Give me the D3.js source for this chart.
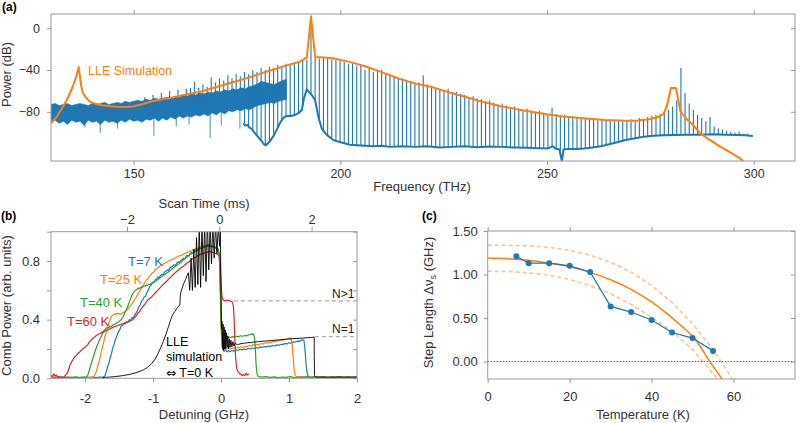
<!DOCTYPE html>
<html><head><meta charset="utf-8">
<script src="https://cdn.jsdelivr.net/npm/d3@7"></script>
<style>body{margin:0;background:#fff}svg{display:block}</style>
</head><body>
<svg id="chart" width="800" height="423"></svg>
<script>
// ---------------- DATA ----------------
// Panel (a): spectrum (dB) vs frequency (THz)
const bandStart = 130; // first frequency of the noisy floor samples (1 THz step)
const bandHi = [-73,-72,-74,-73,-72,-74,-73,-72,-73,-74,-72,-73,-72,-71,-73,-72,-71,-72,-70,-71,-70,-69,-70,-68,-69,-67,-68,-67,-66,-67,-65,-66,-64,-65,-63,-64,-62,-63,-61,-62,-60,-61,-59,-60,-58,-59,-57,-58,-56,-55,-53,-51,-52,-53,-54,-52,-50,-49];
const bandLo = [-90,-88,-91,-89,-92,-88,-90,-89,-93,-88,-90,-89,-92,-88,-90,-89,-91,-88,-90,-87,-89,-88,-90,-87,-88,-86,-89,-86,-88,-85,-87,-84,-86,-84,-85,-83,-84,-82,-84,-81,-83,-80,-82,-79,-80,-78,-79,-77,-78,-76,-74,-73,-72,-71,-72,-70,-69,-68];
const spikeFreq = [138.2,141.9,146.1,154.9,160.3,163.4,168.5,171.2,175.7];
const spikeLow  = [-95,-100,-96,-103,-94,-92,-105,-93,-96];
const lowerTrace = [[176.5,-91],[177,-93],[177.5,-92.5],[178,-95],[178.5,-96],[179,-99],[179.5,-101],[180,-103.5],[180.5,-106],[181,-108],[181.5,-111],[182,-112],[182.5,-110],[183,-108],[183.5,-105],[184,-102],[184.5,-98],[185,-94],[185.5,-90],[186,-87],[186.5,-85],[187,-84],[188,-84],[189,-83],[190,-81],[190.7,-78],[191.2,-67],[191.9,-58.5],[192.4,-61],[193.1,-64],[193.9,-69],[194.7,-85],[195.5,-96],[196.7,-102],[198.3,-107],[200,-109],[201,-110],[202.3,-111.5],[204,-112],[206,-112.5],[208,-113],[210,-112.5],[212,-113.5],[215,-113],[218,-113.5],[221,-113],[224,-114],[227,-113.5],[230,-113],[233,-113.8],[236,-113.2],[239,-113.5],[242,-114],[245,-114.3],[248,-114.8],[250,-115],[251.5,-113],[252,-115],[253,-116],[253.6,-127],[254,-116],[255,-115.5],[257,-115.5],[259,-115],[261,-114],[263,-113],[265,-111],[267,-109],[269,-107],[271,-105.5],[273,-104],[275,-103],[278,-102.5],[281,-102.2],[284,-102],[287,-101.8],[290,-101.5],[293,-101.8],[296,-102.2],[298,-102.5],[299.8,-103]];
const pumpFreq = 192.9, combSpacing = 1.0056, firstComb = -40;
const combTops = [-66,-70,-64,-69,-62,-67,-60,-65,-59,-63,-58,-57,-51,-57,-54,-56,
 -47,-52,-48,-50,-45,-48,-44,-46,-42,-44,-40,-42,-38,-40,-37,-38,-35,-36,-34,-34,-33,-32,-31,-30,
 12,
 -28,-29,-28,-29,-30,-30,-31,-32,-34,-34,
 -36,-36,-40,-38,-42,-41,-40,-44,-45,-46,
 -48,-48,-50,-51,-52,-52,-45,-54,-55,-57,
 -58,-59,-58,-61,-61,-63,-64,-66,-65,-67,
 -68,-70,-69,-71,-73,-72,-74,-76,-75,-77,
 -78,-77,-79,-80,-79,-81,-83,-76,-82,-84,
 -83,-85,-84,-86,-85,-86,-87,-86,-88,-87,
 -88,-87,-89,-88,-89,-88,-87,-88,-86,-87,
 -85,-84,-83,-82,-80,-78,-75,-69,-38,-62,
 -72,-78,-83,-86,-89,-85,-94,-96,-97,-98,
 -99,-100,-99,-101,-101];
const orangeLLE = [[130,-90.7],[131.4,-84.7],[132.6,-77],[133.8,-68.7],[134.6,-62],[135.4,-54.4],[136,-47.5],[136.4,-41.7],[136.7,-37.2],[137,-46],[137.3,-55],[137.7,-62],[138.5,-66.5],[139.4,-70.3],[140.5,-72],[141.9,-73.5],[143.9,-74.5],[145.9,-75.1],[148,-75.3],[149.8,-75],[152,-72.8],[154,-70.3],[157,-68],[160,-65.8],[163,-63.3],[166.1,-60.8],[169,-57.5],[172.1,-53.9],[175,-50.5],[178.1,-47],[181,-43],[184.2,-39.1],[187,-35.6],[190.2,-32.1],[191.9,-27.9],[192.9,10.9],[193.9,-27.6],[196,-28],[198.2,-28.8],[202,-32],[206.4,-36.9],[210,-42],[214.4,-48.6],[218,-52.8],[222.4,-56.6],[226,-61],[230.6,-66.1],[234,-70],[238.6,-74.4],[244,-78.5],[249.9,-82.4],[254,-84.5],[258.7,-86.2],[264,-87.7],[269.3,-88.5],[272,-88.3],[274.9,-86.9],[276.8,-85],[278.2,-82.1],[279,-74.4],[280,-57.2],[281.2,-57.2],[282.3,-79.9],[283.8,-87],[285.4,-92.6],[287,-100.5],[289.5,-107],[291.9,-113.3],[293.5,-116.8],[295,-120.3],[296.5,-124],[297.5,-127]];
const freqTicks = [150,200,250,300];
const powerTicks = [0,-40,-80];

// Panel (b): comb power vs detuning (GHz)
const tr7K = [[-2.5,.006],[-2.44,.003],[-2.38,.009],[-2.32,.004],[-2.26,.007],[-2.2,.003],[-2.14,.008],[-2.08,.004],[-2.02,.007],[-1.96,.003],[-1.9,.008],[-1.84,.004],[-1.78,.009],[-1.74,.006],[-1.71,.015],[-1.69,.04],[-1.67,.075],[-1.65,.10],[-1.63,.14],[-1.61,.17],[-1.59,.21],[-1.57,.235],[-1.55,.27],[-1.53,.29],[-1.51,.315],[-1.49,.33],[-1.47,.355],[-1.45,.36],[-1.43,.375],[-1.41,.37],[-1.39,.385],[-1.37,.38],[-1.35,.40],[-1.33,.395],[-1.31,.415],[-1.29,.41],[-1.27,.43],[-1.25,.445],[-1.23,.46],[-1.21,.485],[-1.19,.50],[-1.17,.525],[-1.15,.535],[-1.13,.555],[-1.11,.56],[-1.09,.585],[-1.07,.60],[-1.05,.625],[-1.03,.635],[-1.01,.655],[-.99,.65],[-.97,.67],[-.95,.675],[-.93,.69],[-.91,.685],[-.89,.70],[-.87,.71],[-.85,.705],[-.83,.725],[-.81,.73],[-.79,.74],[-.77,.735],[-.75,.755],[-.73,.76],[-.71,.765],[-.69,.775],[-.67,.77],[-.65,.785],[-.63,.795],[-.61,.79],[-.59,.805],[-.57,.81],[-.55,.82],[-.53,.815],[-.51,.835],[-.49,.84],[-.47,.835],[-.45,.855],[-.43,.86],[-.41,.855],[-.39,.87],[-.37,.875],[-.35,.87],[-.33,.885],[-.31,.89],[-.29,.885],[-.27,.895],[-.25,.90],[-.23,.895],[-.21,.905],[-.19,.90],[-.17,.905],[-.15,.90],[-.13,.895],[-.11,.898],[-.09,.89],[-.07,.885],[-.05,.875],[-.035,.86],[-.02,.82],[-.01,.65],[0,.45],[.01,.30],[.02,.22],[.035,.19],[.05,.185],[.07,.19],[.09,.18],[.11,.188],[.13,.182],[.16,.19],[.19,.185],[.22,.195],[.25,.19],[.28,.198],[.31,.193],[.34,.2],[.37,.196],[.40,.205],[.43,.2],[.46,.207],[.49,.203],[.52,.21],[.55,.206],[.58,.214],[.61,.21],[.64,.217],[.67,.213],[.70,.22],[.73,.217],[.76,.224],[.79,.22],[.82,.228],[.85,.225],[.88,.232],[.91,.23],[.94,.237],[.97,.235],[1.0,.242],[1.03,.24],[1.06,.248],[1.09,.246],[1.12,.253],[1.15,.252],[1.18,.26],[1.2,.262],[1.22,.258],[1.235,.2],[1.25,.1],[1.265,.04],[1.28,.015],[1.32,.008],[1.38,.012],[1.44,.006],[1.5,.01],[1.56,.005],[1.62,.009],[1.68,.005],[1.74,.01],[1.8,.006],[1.86,.009],[1.92,.005],[2.0,.008]];
const tr25K = [[-2.5,.004],[-2.44,.008],[-2.38,.003],[-2.32,.007],[-2.26,.004],[-2.2,.009],[-2.14,.004],[-2.08,.007],[-2.02,.003],[-1.96,.008],[-1.9,.005],[-1.87,.01],[-1.85,.03],[-1.83,.05],[-1.81,.09],[-1.79,.12],[-1.77,.16],[-1.75,.20],[-1.73,.235],[-1.71,.28],[-1.69,.31],[-1.67,.345],[-1.65,.375],[-1.63,.40],[-1.61,.425],[-1.59,.43],[-1.57,.44],[-1.55,.435],[-1.53,.445],[-1.51,.438],[-1.49,.442],[-1.47,.436],[-1.45,.445],[-1.43,.45],[-1.41,.455],[-1.39,.462],[-1.37,.47],[-1.35,.485],[-1.33,.495],[-1.31,.51],[-1.29,.52],[-1.27,.54],[-1.25,.55],[-1.23,.57],[-1.21,.585],[-1.19,.60],[-1.17,.615],[-1.15,.63],[-1.13,.645],[-1.11,.66],[-1.09,.675],[-1.07,.68],[-1.05,.70],[-1.03,.705],[-1.01,.72],[-.99,.725],[-.97,.74],[-.95,.745],[-.93,.755],[-.91,.76],[-.89,.77],[-.87,.772],[-.85,.78],[-.83,.782],[-.81,.79],[-.79,.795],[-.77,.80],[-.75,.803],[-.73,.81],[-.71,.812],[-.69,.82],[-.67,.822],[-.65,.828],[-.63,.83],[-.61,.836],[-.59,.838],[-.57,.843],[-.55,.847],[-.53,.852],[-.51,.856],[-.49,.86],[-.47,.863],[-.45,.868],[-.43,.87],[-.41,.876],[-.39,.88],[-.37,.884],[-.35,.886],[-.33,.891],[-.31,.893],[-.29,.898],[-.27,.9],[-.25,.905],[-.23,.906],[-.21,.91],[-.19,.912],[-.17,.908],[-.15,.906],[-.13,.902],[-.11,.9],[-.09,.896],[-.07,.893],[-.05,.886],[-.035,.875],[-.02,.80],[-.01,.6],[0,.38],[.01,.25],[.02,.205],[.035,.195],[.05,.2],[.08,.198],[.11,.205],[.14,.2],[.17,.207],[.2,.205],[.23,.21],[.26,.208],[.29,.215],[.32,.212],[.35,.218],[.38,.216],[.41,.222],[.44,.22],[.47,.228],[.5,.226],[.53,.232],[.56,.23],[.59,.237],[.62,.235],[.65,.242],[.68,.24],[.71,.247],[.74,.245],[.77,.252],[.8,.25],[.83,.257],[.86,.256],[.89,.263],[.92,.262],[.95,.268],[.98,.268],[1.01,.274],[1.03,.272],[1.045,.24],[1.06,.15],[1.075,.06],[1.09,.02],[1.12,.008],[1.18,.012],[1.24,.006],[1.3,.01],[1.36,.005],[1.42,.009],[1.48,.004],[1.54,.008],[1.6,.005],[1.66,.01],[1.72,.006],[1.78,.009],[1.84,.004],[1.9,.008],[1.96,.005],[2.0,.007]];
const tr40K = [[-2.5,.008],[-2.44,.004],[-2.38,.009],[-2.32,.005],[-2.26,.008],[-2.2,.004],[-2.14,.009],[-2.08,.005],[-2.02,.008],[-1.98,.01],[-1.96,.02],[-1.94,.05],[-1.92,.08],[-1.9,.115],[-1.88,.14],[-1.86,.175],[-1.84,.20],[-1.82,.225],[-1.8,.245],[-1.78,.27],[-1.76,.285],[-1.74,.31],[-1.72,.325],[-1.7,.335],[-1.68,.345],[-1.66,.343],[-1.64,.352],[-1.62,.35],[-1.6,.36],[-1.58,.365],[-1.56,.37],[-1.54,.376],[-1.52,.38],[-1.5,.388],[-1.48,.395],[-1.46,.405],[-1.44,.42],[-1.42,.44],[-1.4,.46],[-1.38,.48],[-1.36,.505],[-1.34,.53],[-1.32,.555],[-1.3,.575],[-1.28,.59],[-1.26,.60],[-1.24,.605],[-1.22,.615],[-1.2,.612],[-1.18,.622],[-1.16,.62],[-1.14,.63],[-1.12,.628],[-1.1,.636],[-1.08,.634],[-1.06,.642],[-1.04,.64],[-1.02,.648],[-1.0,.652],[-.98,.66],[-.96,.662],[-.94,.67],[-.92,.675],[-.9,.682],[-.88,.69],[-.86,.697],[-.84,.705],[-.82,.71],[-.8,.718],[-.78,.724],[-.76,.73],[-.74,.738],[-.72,.748],[-.7,.752],[-.68,.762],[-.66,.766],[-.64,.776],[-.62,.78],[-.6,.79],[-.58,.795],[-.56,.805],[-.54,.812],[-.52,.82],[-.5,.826],[-.48,.835],[-.46,.84],[-.44,.848],[-.42,.852],[-.4,.86],[-.38,.864],[-.36,.87],[-.34,.875],[-.32,.88],[-.3,.884],[-.28,.888],[-.26,.893],[-.24,.895],[-.22,.9],[-.2,.902],[-.18,.905],[-.16,.904],[-.14,.903],[-.12,.9],[-.1,.898],[-.08,.894],[-.06,.89],[-.04,.88],[-.025,.84],[-.012,.65],[0,.42],[.01,.31],[.02,.28],[.035,.272],[.05,.278],[.08,.275],[.11,.282],[.14,.278],[.17,.284],[.2,.28],[.23,.287],[.26,.284],[.29,.29],[.32,.287],[.35,.292],[.38,.29],[.41,.297],[.44,.3],[.46,.303],[.48,.298],[.495,.27],[.505,.2],[.515,.1],[.53,.03],[.55,.012],[.6,.008],[.66,.012],[.72,.006],[.78,.01],[.84,.005],[.9,.009],[.96,.006],[1.02,.011],[1.08,.005],[1.14,.009],[1.2,.006],[1.26,.011],[1.32,.005],[1.38,.009],[1.44,.006],[1.5,.01],[1.56,.005],[1.62,.009],[1.68,.006],[1.74,.011],[1.8,.005],[1.86,.009],[1.92,.006],[2.0,.01]];
const tr60K = [[-2.5,.02],[-2.48,.012],[-2.46,.03],[-2.44,.015],[-2.42,.022],[-2.4,.008],[-2.38,.012],[-2.36,.004],[-2.34,.01],[-2.32,.005],[-2.3,.015],[-2.28,.025],[-2.26,.035],[-2.24,.06],[-2.22,.09],[-2.2,.11],[-2.18,.125],[-2.16,.14],[-2.14,.15],[-2.12,.16],[-2.1,.172],[-2.08,.178],[-2.06,.19],[-2.04,.195],[-2.02,.205],[-2.0,.21],[-1.98,.22],[-1.96,.23],[-1.94,.245],[-1.92,.255],[-1.9,.265],[-1.88,.275],[-1.86,.28],[-1.84,.29],[-1.82,.295],[-1.8,.302],[-1.78,.305],[-1.76,.31],[-1.74,.315],[-1.72,.318],[-1.7,.325],[-1.68,.326],[-1.66,.332],[-1.64,.336],[-1.62,.342],[-1.6,.344],[-1.58,.35],[-1.56,.352],[-1.54,.357],[-1.52,.36],[-1.5,.364],[-1.48,.366],[-1.46,.372],[-1.44,.372],[-1.42,.378],[-1.4,.38],[-1.38,.384],[-1.36,.386],[-1.34,.39],[-1.32,.394],[-1.3,.4],[-1.28,.408],[-1.26,.42],[-1.24,.43],[-1.22,.445],[-1.2,.455],[-1.18,.47],[-1.16,.482],[-1.14,.495],[-1.12,.505],[-1.1,.52],[-1.08,.532],[-1.06,.54],[-1.04,.548],[-1.02,.555],[-1.0,.566],[-.98,.576],[-.96,.585],[-.94,.596],[-.92,.605],[-.9,.615],[-.88,.626],[-.86,.636],[-.84,.645],[-.82,.652],[-.8,.662],[-.78,.672],[-.76,.682],[-.74,.69],[-.72,.7],[-.7,.708],[-.68,.718],[-.66,.725],[-.64,.734],[-.62,.742],[-.6,.75],[-.58,.756],[-.56,.762],[-.54,.77],[-.52,.778],[-.5,.786],[-.48,.792],[-.46,.798],[-.44,.808],[-.42,.815],[-.4,.82],[-.38,.826],[-.36,.83],[-.34,.838],[-.32,.842],[-.3,.846],[-.28,.85],[-.26,.853],[-.24,.857],[-.22,.858],[-.2,.861],[-.18,.862],[-.16,.864],[-.14,.862],[-.12,.858],[-.1,.856],[-.08,.852],[-.06,.848],[-.04,.842],[-.025,.835],[-.012,.78],[0,.66],[.01,.58],[.02,.545],[.04,.532],[.06,.528],[.08,.534],[.1,.528],[.12,.532],[.14,.526],[.16,.524],[.175,.51],[.185,.48],[.195,.38],[.205,.25],[.215,.14],[.23,.07],[.25,.045],[.27,.035],[.29,.028],[.31,.02],[.33,.025],[.35,.018],[.37,.035],[.39,.022],[.41,.03]];
const trLLE = [[-1.75,.005],[-1.65,.008],[-1.55,.012],[-1.45,.018],[-1.35,.026],[-1.25,.038],[-1.15,.055],[-1.08,.075],[-1.02,.1],[-.97,.13],[-.93,.165],[-.89,.205],[-.85,.25],[-.81,.3],[-.77,.355],[-.74,.4],[-.71,.435],[-.68,.455],[-.65,.475],[-.62,.495],[-.605,.5],[-.598,.56],[-.59,.59],[-.57,.615],[-.55,.645],[-.52,.675],[-.5,.7],
 [-.48,.72],[-.46,.6],[-.44,.82],[-.42,.6],[-.40,.88],[-.38,.62],[-.36,.96],[-.34,.64],[-.32,1.04],[-.30,.62],[-.28,1.05],[-.26,.7],[-.24,1.06],[-.22,.66],[-.20,1.08],[-.18,.74],[-.16,1.05],[-.14,.78],[-.12,1.06],[-.10,.82],[-.08,1.05],[-.06,.85],[-.04,1.04],[-.02,.9],[-.01,1.0],
 [0,.6],[.006,.34],[.014,.39],[.022,.2],[.03,.37],[.038,.19],[.046,.35],[.054,.2],[.062,.33],[.07,.2],[.08,.31],[.09,.21],[.1,.29],[.11,.2],[.12,.27],[.132,.21],[.145,.26],[.16,.215],[.175,.25],[.19,.22],[.21,.24],[.24,.228],[.28,.235],
 [.35,.24],[.45,.245],[.55,.25],[.65,.254],[.75,.258],[.85,.262],[.95,.266],[1.05,.27],[1.15,.273],[1.25,.276],[1.33,.279],[1.37,.281],[1.372,.15],[1.375,.02],[1.4,.008],[1.6,.008],[2.0,.008]];
const levelN1 = 0.284, levelNgt1 = 0.528;
const detuneTicks = [-2,-1,0,1,2];
const scanTicks = [-2,0,2];
const combPowerTicks = [0,0.2,0.4,0.6,0.8,1.0];

// Panel (c): step length vs temperature
const tempK   = [7,10,15,20,25,30,35,40,45,50,55];
const stepLen = [1.21,1.13,1.13,1.10,1.03,0.634,0.569,0.477,0.334,0.27,0.123];
const fitT = [0,5,10,15,20,25,30,35,40,43,47,50,52,54.2,56,57.2];
const fitV = [1.19,1.182,1.163,1.13,1.09,1.025,0.94,0.83,0.685,0.58,0.42,0.29,0.165,0.0,-0.12,-0.2];
const upT = [0,5,10,15,20,25,30,35,40,45,50,55,57.5,59,59.7];
const upV = [1.336,1.335,1.329,1.312,1.278,1.223,1.141,1.027,0.874,0.679,0.434,0.136,-0.036,-0.146,-0.199];
const loT = [0,5,10,15,20,25,30,35,40,45,50,52.5,55,56.3];
const loV = [1.037,1.034,1.02,0.991,0.943,0.873,0.779,0.657,0.506,0.35,0.14,0.0,-0.139,-0.21];
const tempTicks = [0,20,40,60];
const stepTicks = [0,0.5,1.0,1.5];

// ---------------- DRAWING ----------------
const BLUE='#1f77b4', ORANGE='#ff7f0e', GREEN='#2ca02c', RED='#d62728';
const FONT='"Liberation Sans", Arial, Helvetica, sans-serif';
const svg = d3.select('#chart');
const defs = svg.append('defs');

function styleAxis(g, size){
  g.select('.domain').remove();
  g.selectAll('.tick line').attr('stroke','#999');
  g.selectAll('.tick text').attr('fill','#333').style('font-family',FONT).style('font-size',size+'px');
}
function clip(id, b){
  defs.append('clipPath').attr('id',id).append('rect')
    .attr('x',b.l).attr('y',b.t).attr('width',b.r-b.l).attr('height',b.b-b.t);
}
function frame(b){
  svg.append('rect').attr('x',b.l).attr('y',b.t).attr('width',b.r-b.l).attr('height',b.b-b.t)
    .attr('fill','none').attr('stroke','#999').attr('stroke-width',1);
}
function label(x,y,txt,opt={}){
  const t = svg.append('text').attr('x',x).attr('y',y).text(txt)
    .style('font-family',FONT).style('font-size',(opt.size||13)+'px')
    .attr('fill',opt.fill||'#333').attr('text-anchor',opt.anchor||'start');
  if(opt.bold) t.style('font-weight','bold');
  if(opt.rotate) t.attr('transform',`rotate(-90,${x},${y})`);
  return t;
}

// ---- Panel (a)
const A={l:51,r:795,t:14,b:161};
const xA=d3.scaleLinear().domain([130,310]).range([A.l,A.r]);
const yA=d3.scaleLinear().domain([-127,13.5]).range([A.b,A.t]);
clip('clipA',A);
const gA=svg.append('g').attr('clip-path','url(#clipA)');
const band = bandHi.map((h,i)=>({f:bandStart+i, hi:h, lo:bandLo[i]}));
gA.append('path').datum(band)
  .attr('d',d3.area().x(d=>xA(d.f)).y0(d=>yA(d.lo)).y1(d=>yA(d.hi)))
  .attr('fill',BLUE).attr('stroke',BLUE).attr('stroke-width',0.6);
const bandMidAt = f => { const d=band[Math.max(0,Math.min(band.length-1,Math.round(f-bandStart)))]; return (d.lo+d.hi)/2; };
gA.selectAll('line.spike').data(spikeFreq).join('line').attr('class','spike')
  .attr('x1',d=>xA(d)).attr('x2',d=>xA(d))
  .attr('y1',d=>yA(bandMidAt(d))).attr('y2',(d,i)=>yA(spikeLow[i]))
  .attr('stroke',BLUE).attr('stroke-width',1).attr('opacity',0.8);
gA.append('path').datum(lowerTrace)
  .attr('d',d3.line().x(d=>xA(d[0])).y(d=>yA(d[1])))
  .attr('fill','none').attr('stroke',BLUE).attr('stroke-width',2).attr('stroke-linejoin','round');
const bis = d3.bisector(d=>d[0]).left;
function lowerAt(f){
  const i = bis(lowerTrace,f);
  if(i<=0) return lowerTrace[0][1];
  if(i>=lowerTrace.length) return lowerTrace[lowerTrace.length-1][1];
  const a=lowerTrace[i-1], b=lowerTrace[i];
  return a[1]+(b[1]-a[1])*(f-a[0])/(b[0]-a[0]);
}
const comb = combTops.map((t,i)=>{ const f=pumpFreq+(i+firstComb)*combSpacing; return {f, top:t, bot: f<lowerTrace[0][0]? bandMidAt(f) : lowerAt(f)}; });
gA.selectAll('line.comb').data(comb).join('line').attr('class','comb')
  .attr('x1',d=>xA(d.f)).attr('x2',d=>xA(d.f))
  .attr('y1',d=>yA(d.bot)).attr('y2',d=>yA(d.top))
  .attr('stroke',BLUE).attr('stroke-width',1.1);
gA.append('path').datum(orangeLLE)
  .attr('d',d3.line().x(d=>xA(d[0])).y(d=>yA(d[1])))
  .attr('fill','none').attr('stroke',ORANGE).attr('stroke-width',2).attr('stroke-linejoin','round');
frame(A);
svg.append('g').attr('transform',`translate(0,${A.b})`)
  .call(d3.axisBottom(xA).tickValues(freqTicks).tickSize(4).tickPadding(4)).call(g=>styleAxis(g,12.5));
svg.append('g').attr('transform',`translate(0,${A.t})`)
  .call(d3.axisTop(xA).tickValues(freqTicks).tickSize(4).tickFormat('')).call(g=>styleAxis(g,12.5));
svg.append('g').attr('transform',`translate(${A.l},0)`)
  .call(d3.axisLeft(yA).tickValues(powerTicks).tickSize(4).tickPadding(7)).call(g=>styleAxis(g,12.5));
svg.append('g').attr('transform',`translate(${A.r},0)`)
  .call(d3.axisLeft(yA).tickValues(powerTicks).tickSize(4).tickFormat('')).call(g=>styleAxis(g,12.5));
label(2,10.5,'(a)',{bold:true,size:12,fill:'#000'});
label(10.5,74.5,'Power (dB)',{rotate:true,anchor:'middle'});
label(422,191,'Frequency (THz)',{anchor:'middle'});
label(88,74.5,'LLE Simulation',{fill:ORANGE,size:12.5});

// ---- Panel (b)
const B={l:51,r:357,t:231.7,b:378.3};
const xB=d3.scaleLinear().domain([-2.5,2.0]).range([B.l,B.r]);
const tB=d3.scaleLinear().domain([-3.647,2.984]).range([B.l,B.r]);
const yB=d3.scaleLinear().domain([0,1]).range([B.b,B.t]);
clip('clipB',B);
const gB=svg.append('g').attr('clip-path','url(#clipB)');
gB.append('line').attr('x1',xB(0.19)).attr('x2',xB(2.0)).attr('y1',yB(levelNgt1)).attr('y2',yB(levelNgt1))
  .attr('stroke','#999').attr('stroke-dasharray','4,3');
gB.append('line').attr('x1',xB(1.38)).attr('x2',xB(2.0)).attr('y1',yB(levelN1)).attr('y2',yB(levelN1))
  .attr('stroke','#999').attr('stroke-dasharray','4,3');
const lineB=d3.line().x(d=>xB(d[0])).y(d=>yB(d[1]));
[[tr7K,BLUE,1.2],[tr25K,ORANGE,1.2],[tr40K,GREEN,1.2],[tr60K,RED,1.2],[trLLE,'#000',0.9]].forEach(([d,c,w])=>{
  gB.append('path').datum(d).attr('d',lineB).attr('fill','none').attr('stroke',c)
    .attr('stroke-width',w).attr('stroke-linejoin','round');
});
frame(B);
svg.append('g').attr('transform',`translate(0,${B.b})`)
  .call(d3.axisBottom(xB).tickValues(detuneTicks).tickSize(4).tickPadding(11).tickFormat(d=>String(d))).call(g=>styleAxis(g,13));
svg.append('g').attr('transform',`translate(0,${B.t})`)
  .call(d3.axisTop(tB).tickValues(scanTicks).tickSize(5).tickPadding(3).tickFormat(d3.format('d'))).call(g=>styleAxis(g,13));
svg.append('g').attr('transform',`translate(${B.l},0)`)
  .call(d3.axisLeft(yB).tickValues(combPowerTicks).tickSize(4).tickPadding(7)
    .tickFormat(d=>[0,0.4,0.8].some(v=>Math.abs(v-d)<1e-9)?d3.format('.1f')(d):'')).call(g=>styleAxis(g,13));
svg.append('g').attr('transform',`translate(${B.r},0)`)
  .call(d3.axisLeft(yB).tickValues(combPowerTicks).tickSize(4).tickFormat('')).call(g=>styleAxis(g,13));
label(1,219.5,'(b)',{bold:true,size:12,fill:'#000'});
label(10.5,305.5,'Comb Power (arb. units)',{rotate:true,anchor:'middle'});
label(204,419,'Detuning (GHz)',{anchor:'middle'});
label(204,208,'Scan Time (ms)',{anchor:'middle'});
label(128,266,'T=7 K',{fill:BLUE});
label(100,284,'T=25 K',{fill:ORANGE});
label(80,307,'T=40 K',{fill:GREEN});
label(67,325.5,'T=60 K',{fill:RED});
label(166,345.5,'LLE',{fill:'#000',size:12.5});
label(166,361,'simulation',{fill:'#000',size:12.5});
const eq = label(166,376.5,'',{fill:'#000',size:12.5});
eq.append('tspan').text('\u21D4').style('font-family','"DejaVu Sans"').style('font-size','12px');
eq.append('tspan').text(' T=0 K');
label(332,297.5,'N>1',{fill:'#222',size:12});
label(332,333,'N=1',{fill:'#222',size:12});

// ---- Panel (c)
const C={l:487.7,r:795,t:231,b:379};
const xC=d3.scaleLinear().domain([0,75]).range([C.l,C.r]);
const yC=d3.scaleLinear().domain([-0.2,1.5]).range([C.b,C.t]);
clip('clipC',C);
const gC=svg.append('g').attr('clip-path','url(#clipC)');
gC.append('line').attr('x1',C.l).attr('x2',C.r).attr('y1',yC(0)).attr('y2',yC(0))
  .attr('stroke','#555').attr('stroke-width',1).attr('stroke-dasharray','1.5,1.5');
const lineC=d3.line().x(d=>xC(d[0])).y(d=>yC(d[1]));
gC.append('path').datum(upT.map((t,i)=>[t,upV[i]])).attr('d',lineC).attr('fill','none')
  .attr('stroke',ORANGE).attr('stroke-opacity',0.5).attr('stroke-width',1.5).attr('stroke-dasharray','4,3');
gC.append('path').datum(loT.map((t,i)=>[t,loV[i]])).attr('d',lineC).attr('fill','none')
  .attr('stroke',ORANGE).attr('stroke-opacity',0.5).attr('stroke-width',1.5).attr('stroke-dasharray','4,3');
gC.append('path').datum(fitT.map((t,i)=>[t,fitV[i]])).attr('d',d3.line().curve(d3.curveMonotoneX).x(d=>xC(d[0])).y(d=>yC(d[1])))
  .attr('fill','none').attr('stroke',ORANGE).attr('stroke-width',1.5);
const pts = tempK.map((t,i)=>[t,stepLen[i]]);
gC.append('path').datum(pts).attr('d',lineC).attr('fill','none').attr('stroke',BLUE).attr('stroke-width',1.2);
gC.selectAll('circle').data(pts).join('circle').attr('cx',d=>xC(d[0])).attr('cy',d=>yC(d[1])).attr('r',3).attr('fill',BLUE);
frame(C);
svg.append('g').attr('transform',`translate(0,${C.b})`)
  .call(d3.axisBottom(xC).tickValues(tempTicks).tickSize(4).tickPadding(9)).call(g=>styleAxis(g,13));
svg.append('g').attr('transform',`translate(0,${C.t})`)
  .call(d3.axisTop(xC).tickValues(tempTicks).tickSize(4).tickFormat('')).call(g=>styleAxis(g,13));
svg.append('g').attr('transform',`translate(${C.l},0)`)
  .call(d3.axisLeft(yC).tickValues(stepTicks).tickSize(4).tickPadding(6).tickFormat(d3.format('.2f'))).call(g=>styleAxis(g,13));
svg.append('g').attr('transform',`translate(${C.r},0)`)
  .call(d3.axisLeft(yC).tickValues(stepTicks).tickSize(4).tickFormat('')).call(g=>styleAxis(g,13));
label(422,219.5,'(c)',{bold:true,size:12,fill:'#000'});
label(643,419,'Temperature (K)',{anchor:'middle'});
const yl = label(432.5,302.5,'',{rotate:true,anchor:'middle'});
yl.append('tspan').text('Step Length \u0394\u03BD');
yl.append('tspan').text('s').style('font-size','9px').attr('dy',3);
yl.append('tspan').text(' (GHz)').attr('dy',-3);
</script>
</body></html>
